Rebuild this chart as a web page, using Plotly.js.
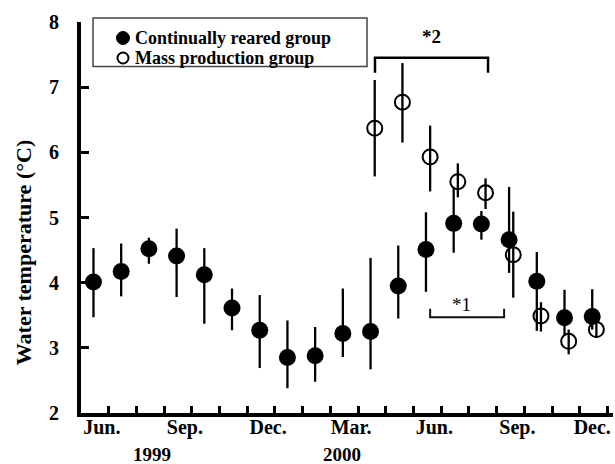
<!DOCTYPE html>
<html>
<head>
<meta charset="utf-8">
<script src="https://cdn.plot.ly/plotly-3.0.1.min.js"></script>
<style>html,body{margin:0;padding:0;background:#fff;}#chart{width:615px;height:464px;}</style>
</head>
<body>
<div id="chart"></div>
<script>
// Month index: 0 = Jun. 1999 ... 18 = Dec. 2000
const filledMonths = [0,1,2,3,4,5,6,7,8,9,10,11,12,13,14,15,16,17,18];
const filledMean = [4.01,4.17,4.52,4.41,4.12,3.61,3.27,2.85,2.88,3.22,3.25,3.95,4.51,4.91,4.90,4.66,4.02,3.46,3.48];
const filledHigh = [4.53,4.60,4.69,4.83,4.53,3.91,3.81,3.42,3.32,3.91,4.38,4.57,5.08,5.46,5.10,5.47,4.47,3.89,3.90];
const filledLow  = [3.47,3.79,4.29,3.78,3.37,3.27,2.69,2.38,2.48,2.86,2.67,3.45,3.86,4.46,4.66,4.15,3.26,3.20,3.28];

const openMonths = [10,11,12,13,14,15,16,17,18];
const openMean = [6.37,6.77,5.93,5.55,5.38,4.43,3.49,3.10,3.28];
const openHigh = [7.11,7.37,6.41,5.83,5.60,5.09,3.70,3.28,3.42];
const openLow  = [5.63,6.15,5.40,5.31,5.13,3.77,3.25,2.90,3.15];

const monthTickLabels = ['Jun.','Sep.','Dec.','Mar.','Jun.','Sep.','Dec.'];
const monthTickIndex  = [0,3,6,9,12,15,18];
const yearLabels = ['1999','2000'];
const yearIndex  = [2.55,9.42];

const seriesNames = ['Continually reared group','Mass production group'];
const sigLabels = ['*2','*1'];
const sig2Range = [10.61,14.69];
const sig1Range = [12.6,15.27];

const FONT = '"Liberation Serif", "Times New Roman", serif';

function errs(mean, hi, lo){
  return {
    type:'data', symmetric:false,
    array: hi.map((h,i)=>+(h-mean[i]).toFixed(3)),
    arrayminus: lo.map((l,i)=>+(mean[i]-l).toFixed(3)),
    color:'#000', thickness:2.3, width:0
  };
}

const traces = [
  {
    type:'scatter', mode:'markers', name:seriesNames[0], showlegend:false,
    x: filledMonths.map(m=>m+0.45), y: filledMean,
    marker:{symbol:'circle', size:17, color:'#000'},
    error_y: errs(filledMean, filledHigh, filledLow)
  },
  {
    type:'scatter', mode:'markers', name:seriesNames[1], showlegend:false,
    x: openMonths.map(m=>m+0.6), y: openMean,
    marker:{symbol:'circle-open', size:15, color:'#000', line:{width:2}},
    error_y: errs(openMean, openHigh, openLow)
  },
  // invisible trace that carries the labelled month axis
  {type:'scatter', mode:'markers', x:[0,19.2], y:[2,2], xaxis:'x2', yaxis:'y',
   marker:{opacity:0}, hoverinfo:'skip', showlegend:false}
];

const annotations = [];
annotations.push({
  xref:'paper', yref:'paper', x:-0.108, y:0.41, text:'Water temperature (°C)',
  textangle:-90, showarrow:false, font:{family:FONT, size:22, color:'#000', weight:'bold'},
  xanchor:'center', yanchor:'middle'
});
yearLabels.forEach((t,i)=>annotations.push({
  xref:'x', yref:'paper', x:yearIndex[i], y:-0.107, text:'<b>'+t+'</b>', showarrow:false,
  font:{family:FONT, size:19, color:'#000'}, xanchor:'center', yanchor:'middle'
}));
annotations.push({
  xref:'x', yref:'y', x:(sig2Range[0]+sig2Range[1])/2, y:7.78, text:'<b>'+sigLabels[0]+'</b>',
  showarrow:false, font:{family:FONT, size:19, color:'#000'}, xanchor:'center', yanchor:'middle'
});
annotations.push({
  xref:'x', yref:'y', x:(sig1Range[0]+sig1Range[1])/2 - 0.2, y:3.66, text:sigLabels[1],
  showarrow:false, font:{family:FONT, size:19, color:'#000'}, xanchor:'center', yanchor:'middle'
});
const legendRowsY = [1 - 16/391, 1 - 36/391];
seriesNames.forEach((n,i)=>annotations.push({
  xref:'paper', yref:'paper', x:(133-81)/532, y:legendRowsY[i], text:n, showarrow:false,
  font:{family:FONT, size:18, color:'#000', weight:'bold'}, xanchor:'left', yanchor:'middle'
}));

const shapes = [
  {type:'path', xref:'x', yref:'y',
   path:`M ${sig2Range[0]} 7.22 L ${sig2Range[0]} 7.45 L ${sig2Range[1]} 7.45 L ${sig2Range[1]} 7.22`,
   line:{color:'#000', width:2.5}},
  {type:'path', xref:'x', yref:'y',
   path:`M ${sig1Range[0]} 3.60 L ${sig1Range[0]} 3.47 L ${sig1Range[1]} 3.47 L ${sig1Range[1]} 3.60`,
   line:{color:'#111', width:2}},
  {type:'rect', xref:'paper', yref:'paper', x0:0.0226, x1:0.5376, y0:0.886, y1:1.010,
   line:{color:'#444', width:1.5}, fillcolor:'rgba(255,255,255,0)', layer:'above'},
  {type:'circle', xref:'paper', yref:'paper', xsizemode:'pixel', ysizemode:'pixel',
   xanchor:(123-81)/532, yanchor:legendRowsY[0], x0:-6.5, x1:6.5, y0:-6.5, y1:6.5,
   fillcolor:'#000', line:{color:'#000', width:1}, layer:'above'},
  {type:'circle', xref:'paper', yref:'paper', xsizemode:'pixel', ysizemode:'pixel',
   xanchor:(123-81)/532, yanchor:legendRowsY[1], x0:-5.5, x1:5.5, y0:-5.5, y1:5.5,
   fillcolor:'rgba(0,0,0,0)', line:{color:'#000', width:2}, layer:'above'}
];

const labelPos = monthTickIndex.map(i=>Math.min(i+0.75, 18.45));

const layout = {
  width:615, height:464,
  margin:{l:81, r:2, t:22, b:51},
  paper_bgcolor:'#fff', plot_bgcolor:'#fff',
  font:{family:FONT, color:'#000'},
  showlegend:false,
  xaxis:{
    range:[0,19.2], showgrid:false, zeroline:false,
    showline:true, linecolor:'black', linewidth:4, mirror:false, layer:'above traces',
    tickmode:'linear', tick0:0, dtick:1, ticks:'inside', ticklen:7, tickwidth:2.5, tickcolor:'black',
    showticklabels:false
  },
  xaxis2:{
    range:[0,19.2], overlaying:'x', anchor:'y', side:'bottom', showgrid:false, zeroline:false,
    showline:false, tickmode:'array', tickvals:labelPos, ticktext:monthTickLabels, ticks:'',
    tickfont:{family:FONT, size:20, color:'#000', weight:'bold'}
  },
  yaxis:{
    range:[2,8], showgrid:false, zeroline:false,
    showline:true, linecolor:'black', linewidth:4, mirror:false, layer:'above traces',
    tickmode:'array', tickvals:[2,3,4,5,6,7,8], ticks:'inside', ticklen:8, tickwidth:3, tickcolor:'black',
    tickfont:{family:FONT, size:20, color:'#000', weight:'bold'}, ticklabelstandoff:14
  },
  annotations:annotations,
  shapes:shapes
};

Plotly.newPlot('chart', traces, layout, {displayModeBar:false});
</script>
</body>
</html>
